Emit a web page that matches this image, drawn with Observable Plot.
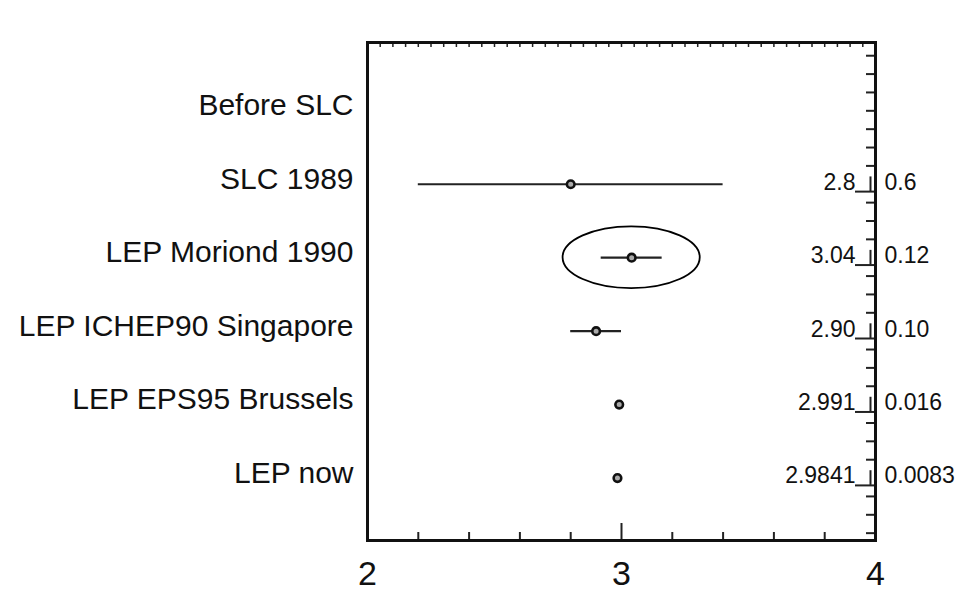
<!DOCTYPE html>
<html><head><meta charset="utf-8">
<script src="https://cdn.jsdelivr.net/npm/d3@7"></script>
<script src="https://cdn.jsdelivr.net/npm/@observablehq/plot@0.6"></script>
<style>body{margin:0;background:#fff}</style>
</head><body><div id="chart"></div>
<script>
const rows = ["Before SLC", "SLC 1989", "LEP Moriond 1990", "LEP ICHEP90 Singapore", "LEP EPS95 Brussels", "LEP now"];
const values = [null, 2.8, 3.04, 2.90, 2.991, 2.9841];
const errors = [null, 0.6, 0.12, 0.10, 0.016, 0.0083];
const valueLabels = ["", "2.8", "3.04", "2.90", "2.991", "2.9841"];
const errorLabels = ["", "0.6", "0.12", "0.10", "0.016", "0.0083"];
const xTickLabels = [2, 3, 4];
const highlighted = "LEP Moriond 1990";
const ellipseHalfWidth = 0.27;   // in x units
const ellipseHalfHeight = 0.42;  // in row units

const data = rows.map((name, i) => ({name, row: i, value: values[i], error: errors[i], vLabel: valueLabels[i], eLabel: errorLabels[i]}));
const measured = data.filter(d => d.value != null);

const W = 961, H = 593, mL = 367, mR = 86, mT = 42, mB = 53;
const plotW = W - mL - mR, plotH = H - mT - mB;
const xDomain = [2, 4], yDomain = [-0.93, 5.85];

const bottomTicks = d3.range(1, 10).map(k => xDomain[0] + k * 0.2).filter(v => Math.abs(v - 3) > 1e-6);
const topTicks = d3.range(1, 40).map(k => xDomain[0] + k * 0.05);
const bracketOffset = 0.1;
const rightTicks = d3.range(-3, 24).map(k => k * 0.25).filter(v => !measured.some(d => Math.abs(d.row - v) < 1e-6));

const font = "'Liberation Sans', Arial, Helvetica, sans-serif";

function ellipseMark(index, scales) {
  const d = data.find(d => d.name === highlighted);
  const cx = scales.x(d.value), cy = scales.y(d.row);
  const rx = Math.abs(scales.x(d.value + ellipseHalfWidth) - cx);
  const ry = Math.abs(scales.y(d.row + ellipseHalfHeight) - cy);
  return d3.create("svg:ellipse")
    .attr("cx", cx).attr("cy", cy).attr("rx", rx).attr("ry", ry)
    .attr("fill", "none").attr("stroke", "#000").attr("stroke-width", 1.8).node();
}

const chart = Plot.plot({
  width: W, height: H,
  marginLeft: mL, marginRight: mR, marginTop: mT, marginBottom: mB,
  style: {fontFamily: font, background: "#fff", color: "#111"},
  x: {domain: xDomain, axis: null},
  y: {domain: yDomain, reverse: true, axis: null},
  marks: [
    // top ticks (downward)
    Plot.tickX(topTicks, {x: d => d, insetBottom: plotH - 5, stroke: "#222", strokeWidth: 1.5}),
    // bottom ticks (upward)
    Plot.tickX(bottomTicks, {x: d => d, insetTop: plotH - 8, stroke: "#222", strokeWidth: 2}),
    Plot.tickX([3], {x: d => d, insetTop: plotH - 17, stroke: "#222", strokeWidth: 2}),
    // right ticks (leftward)
    Plot.tickY(rightTicks, {y: d => d, insetLeft: plotW - 9, stroke: "#222", strokeWidth: 2}),
    // brackets under the value labels
    Plot.tickY(measured, {y: d => d.row + bracketOffset, insetLeft: plotW - 20, stroke: "#222", strokeWidth: 2}),
    Plot.ruleX(measured, {x: () => xDomain[1], y1: d => d.row - bracketOffset, y2: d => d.row + bracketOffset, dx: -5, stroke: "#222", strokeWidth: 2}),
    Plot.frame({stroke: "#111", strokeWidth: 3}),
    // error bars and points
    Plot.ruleY(measured, {y: "row", x1: d => d.value - d.error, x2: d => d.value + d.error, stroke: "#222", strokeWidth: 2.2}),
    Plot.dot(measured, {x: "value", y: "row", r: 3.8, stroke: "#111", strokeWidth: 2.6, fill: "#aaa"}),
    ellipseMark,
    // labels
    Plot.text(data, {y: "row", text: "name", frameAnchor: "left", textAnchor: "end", dx: -14, dy: -5, fontSize: 30, fill: "#111"}),
    Plot.text(measured, {y: "row", text: "vLabel", frameAnchor: "right", textAnchor: "end", dx: -20, dy: -2, fontSize: 23, fill: "#111"}),
    Plot.text(measured, {y: "row", text: "eLabel", frameAnchor: "right", textAnchor: "start", dx: 9, dy: -2, fontSize: 23, fill: "#111"}),
    Plot.axisX({ticks: xTickLabels, tickSize: 0, tickPadding: 20, fontSize: 34, anchor: "bottom", label: null, tickFormat: d => String(d)})
  ]
});
document.getElementById("chart").appendChild(chart);
</script>
</body></html>
